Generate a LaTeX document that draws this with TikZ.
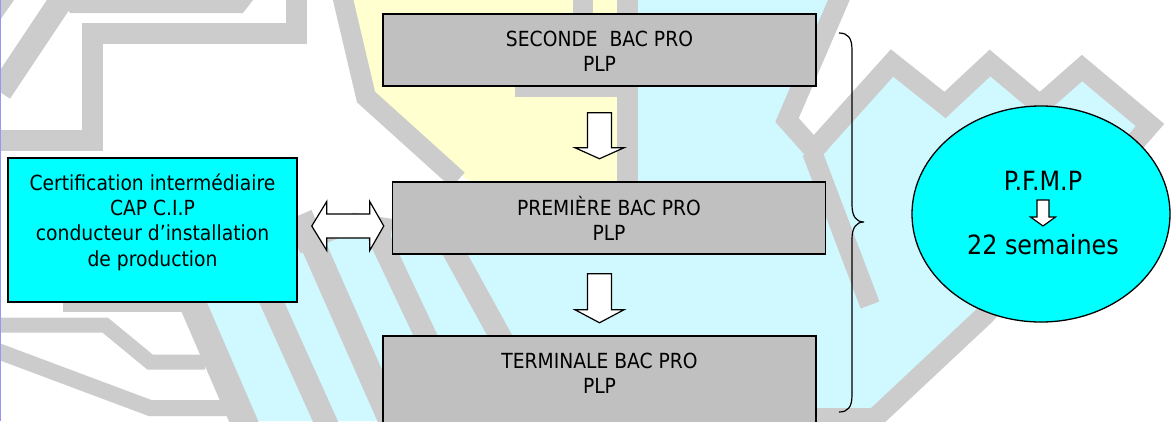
\documentclass[tikz,border=0pt]{standalone}
\usepackage{fontspec}
\setmainfont[FakeStretch=0.9]{DejaVu Sans}
\usetikzlibrary{calc,shapes.geometric}
\definecolor{bggrey}{RGB}{204,204,204}
\definecolor{bgyellow}{RGB}{255,255,208}
\definecolor{bgcyan}{RGB}{208,248,255}
\definecolor{boxgrey}{RGB}{192,192,192}
\definecolor{boxcyan}{RGB}{0,255,255}
\definecolor{edgeblue}{RGB}{150,150,250}
\newcommand\blockdown[5]{%
  \draw[blockarrow] ($(#1)+(-#3,0)$) -- ($(#1)+(#3,0)$) -- ($(#1)+(#3,#2-#5)$)
    -- ($(#1)+(#4,#2-#5)$) -- ($(#1)+(0,#2)$) -- ($(#1)+(-#4,#2-#5)$)
    -- ($(#1)+(-#3,#2-#5)$) -- cycle;}
\begin{document}
\begin{tikzpicture}[x=1pt,y=-1pt,
  band/.style={draw=bggrey, line width=21pt, line join=miter, line cap=butt},
  gbox/.style={draw=black, line width=1.5pt, fill=boxgrey, minimum width=433pt, minimum height=72pt, inner sep=0pt},
  cbox/.style={draw=black, line width=1.5pt, fill=boxcyan, minimum width=289pt, minimum height=144pt, inner sep=0pt},
  txt/.style={font=\fontsize{20.8}{25}\selectfont, inner sep=0pt, anchor=base},
  bigtxt/.style={font=\fontsize{26.5}{30}\selectfont, inner sep=0pt, anchor=base},
  blockarrow/.style={draw=black, fill=white, line width=1.2pt, line join=miter},
]
\useasboundingbox (0,0) rectangle (1171,421);
\fill[white] (0,0) rectangle (1171,421);
% ---- background watermark ----
\fill[bgcyan] (627,0) -- (839,0) -- (787,120) -- (815,158) -- (892,63) -- (945,105) -- (990,63)
  -- (1040,105) -- (1082,68) -- (1150,125) -- (985,315) -- (875,418) -- (875,421) -- (240,421)
  -- (180,290) -- (297,290) -- (297,245) -- (392,225) -- (392,182) -- (627,182) -- cycle;
\fill[bgyellow] (352,0) -- (627,0) -- (627,182) -- (470,182) -- (375,98) -- cycle;
\fill[bggrey] (0,0) -- (14,0) -- (0,20) -- cycle;
\draw[band, line width=24pt] (64,-4) -- (0,92);
\fill[bggrey] (62,0) -- (253,0) -- (243,13) -- (70,13) -- cycle;
\draw[band] (-5,140) -- (92,140) -- (92,33) -- (296,33) -- (296,-5);
\draw[band, line width=20pt] (342,-5) -- (366,97) -- (458,180);
\draw[band] (627,-5) -- (627,185);
\draw[band, line width=20pt] (583,-5) -- (583,40);
\draw[band, line width=14pt] (515,90) -- (627,90);
\draw[band, line width=20pt] (841,-5) -- (787,120) -- (820,157);
\draw[band, line width=20pt] (812,152) -- (892,63) -- (945,105) -- (990,63) -- (1040,105) -- (1082,68)
  -- (1150,125) -- (985,315) -- (875,418) -- (810,418);
\draw[band, line width=20pt] (812,152) -- (870,305);
\draw[band, line width=12pt] (63,306) -- (185,306);
\draw[band, line width=15pt] (-5,325) -- (105,325) -- (150,362) -- (205,362);
\draw[band, line width=16pt] (-5,350) -- (150,408) -- (230,408);
\draw[band, line width=27pt] (150,205) -- (250,436);
\draw[band, line width=23pt] (240,232) -- (332,436);
\draw[band, line width=25pt] (300,215) -- (395,430);
\draw[band, line width=22pt] (378,235) -- (430,345);
\draw[band, line width=22pt] (428,205) -- (505,345);
\draw[band, line width=18pt] (297,245) -- (355,222) -- (392,228);
\draw[edgeblue, line width=2pt] (0,0) -- (0,421);
% ---- main nodes ----
\node[cbox] (cip) at (152.5,230) {};
\node[txt] (cip1) at (152.5,190) {Certification intermédiaire};
\node[txt] (cip2) at (152.5,215.3) {CAP C.I.P};
\node[txt] (cip3) at (152.5,240.7) {conducteur d’installation};
\node[txt] (cip4) at (152.5,266) {de production};

\node[gbox] (b1) at (599.5,50) {};
\node[txt] (b1a) at (599.5,46.7) {SECONDE\ \ BAC PRO};
\node[txt] (b1b) at (599.5,71.7) {PLP};

\node[gbox] (b2) at (609,218) {};
\node[txt] (b2a) at (609,215) {PREMIÈRE BAC PRO};
\node[txt] (b2b) at (609,240) {PLP};

\node[minimum width=433pt, minimum height=72pt, inner sep=0pt] (b3) at (599.5,372) {};
\filldraw[fill=boxgrey, draw=black, line width=1.5pt] (b3.north west) rectangle ($(b3.north east)+(0,100)$);
\node[txt] (b3a) at (599.5,368) {TERMINALE BAC PRO};
\node[txt] (b3b) at (599.5,393.5) {PLP};

% vertical block arrows
\coordinate (a1) at ($(b1.south)+(0,26)$);
\blockdown{a1}{46}{12}{24.5}{11}
\coordinate (a2) at ($(b2.south)+(-9.5,19)$);
\blockdown{a2}{49}{12}{24.5}{13}

% double block arrow
\coordinate (dl) at ($(cip.east)+(14,-4)$);
\draw[blockarrow] (dl) -- ++(15,-24.5) -- ++(0,12.5) -- ++(43,0) -- ++(0,-12.5) -- ++(14,24.5)
  -- ++(-14,24.5) -- ++(0,-12.5) -- ++(-43,0) -- ++(0,12.5) -- cycle;

% brace
\draw[line width=1.2pt] (839,33) .. controls (848,33) and (852,38) .. (852,50) -- (852,205)
  .. controls (852,216) and (856,222) .. (864,222) .. controls (856,222) and (852,228) .. (852,239)
  -- (852,395) .. controls (852,407) and (848,412) .. (839,412);

% ellipse
\node[ellipse, draw=black, fill=boxcyan, line width=1.3pt, minimum width=258pt, minimum height=216pt, inner sep=0pt] (pf) at (1041,214) {};
\node[bigtxt] (pf1) at (1043,190) {P.F.M.P};
\coordinate (a3) at ($(pf.center)+(2,-14)$);
\blockdown{a3}{26}{6}{12.5}{9}
\node[bigtxt] (pf2) at (1043,254) {22 semaines};
\end{tikzpicture}
\end{document}
